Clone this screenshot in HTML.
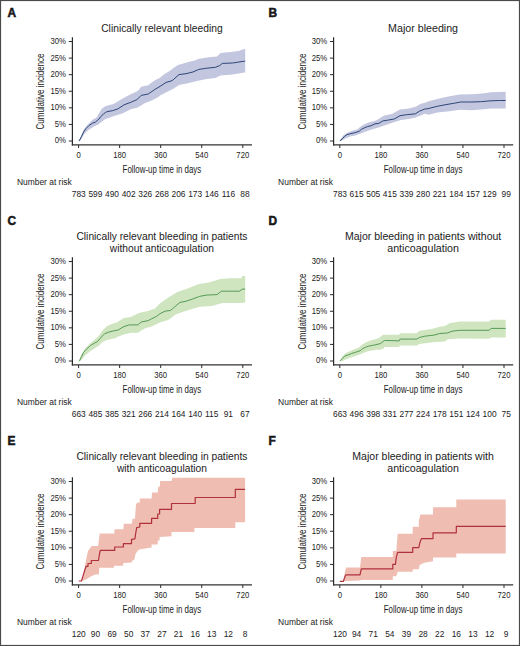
<!DOCTYPE html>
<html><head><meta charset="utf-8"><style>
html,body{margin:0;padding:0;background:#fff;}
svg{display:block;}
text{font-family:"Liberation Sans", sans-serif;fill:#222;}
</style></head><body>
<svg width="520" height="646" viewBox="0 0 520 646">
<rect x="0" y="0" width="520" height="646" fill="#fff"/>
<path d="M78.8,141 L81.5,135 L83.6,129.7 L87.8,124.4 L92.5,119.7 L96.6,117.4 L99.5,112.6 L101.9,108.5 L105.4,106.2 L106.6,105.8 L113.5,104 L120.5,99.7 L129.1,95 L137.8,91.1 L141.2,86.7 L148.2,85.3 L150,83.8 L155.4,80 L159.6,78.1 L164.2,74.2 L170.4,70.4 L173.5,68.1 L178.1,65 L185.8,62.7 L191.2,61.2 L195,60.4 L198.1,59 L208.5,57.3 L217.1,56.4 L220.6,53 L231,52.1 L239.6,50.7 L242.2,49.5 L245.2,49 L245.2,72.4 L241.3,72.9 L232.7,74.6 L220.6,75.5 L215.4,78.1 L206.7,79 L198.1,80.7 L187.7,83.3 L179,85 L173.8,88.5 L166.9,91.9 L160,95.4 L158.5,97.1 L151.6,100.6 L144.7,103.2 L137.8,107.5 L130.8,109.2 L122.2,113.6 L113.5,116.2 L106.6,118.7 L105.4,119.1 L101.3,122.1 L98.4,124.4 L93.6,126.8 L88.9,129.7 L84.8,133.2 L80.7,140.3 L78.8,141Z" fill="#c3c6df"/><path d="M78.8,141 L79.2,140.9 L81.3,136.8 L83.6,132.1 L86,128.5 L88.9,125.6 L92.5,123.2 L95.4,122.1 L98.9,119.1 L100.7,116.8 L103.6,113.8 L105.4,112.6 L106.6,111.8 L112.7,110.6 L117.9,108.9 L123.9,104.9 L130.8,102.3 L136.9,99.7 L141.2,95.4 L148.2,94 L155.1,89.3 L160,86.4 L166.1,82.4 L172.1,80.7 L179,74.6 L186,73.7 L192.9,72 L198.9,69.4 L206.7,68.2 L215.4,67.3 L219.7,65.6 L222.3,63.4 L232.7,63 L237.9,62.2 L244.8,61.1 L245.2,61.1" fill="none" stroke="#2c4677" stroke-width="1.0" stroke-linejoin="round"/><path d="M339.8,141 L341.5,137.8 L343.2,135.4 L347,132.7 L352.4,130.8 L357,129.6 L360.8,126.5 L363.9,124.6 L369.3,122.3 L373.9,121.2 L377,120 L383.7,115.7 L392.3,113.8 L400,109.4 L408.7,108.5 L416.3,106.5 L420.2,104.1 L425,102.7 L428.7,101.2 L437.3,99.1 L449.4,96.3 L459.8,94.6 L471.9,94.2 L482.3,93.4 L491,92.2 L505.7,91.8 L505.7,108.4 L491,108.4 L480.6,109.5 L471.9,110.2 L459.8,109.8 L449.4,111.2 L437.3,112.4 L428.7,114.7 L425,113.8 L420.2,115.7 L415.4,117.6 L408.7,119 L401,120 L396.2,121.4 L389.4,123.8 L380.8,126.7 L377,128.1 L373.9,128.8 L369.3,130.2 L363.9,132.3 L360.1,133.8 L355.5,135.4 L350.1,136.5 L345.5,138.5 L341.6,140.8 L339.8,141Z" fill="#c3c6df"/><path d="M339.8,141 L340.1,140.6 L342.4,138.8 L344.7,136.2 L347,134.6 L350.1,133.8 L353.2,133.1 L356.2,132.3 L359.3,131.2 L361.6,129.2 L364.7,127.7 L367.8,126.5 L370.8,125.8 L375,123.8 L378.8,123.4 L382.7,121 L387.5,120.2 L394.2,119 L400,115.7 L406.7,114.7 L415.4,113.8 L419.2,111.3 L425,108.9 L426.9,108.9 L437.3,106.3 L446,104.6 L454.6,103.2 L460.7,102 L471.9,102 L480.6,101.7 L491,100.8 L499.6,100.5 L505.7,100.5" fill="none" stroke="#2c4677" stroke-width="1.0" stroke-linejoin="round"/><path d="M78.8,361 L81.4,354.6 L85.2,348.5 L89.8,343.8 L95.2,339.2 L99.1,335.4 L102.2,330.8 L106.8,326.2 L112.2,323.8 L116,322.7 L117,322.3 L123.9,318 L130.8,317.1 L139.5,312.8 L148.2,311.1 L155.1,308.5 L160,303.3 L168.7,297.2 L177.3,292 L187.7,288.6 L198.1,284.2 L208.5,282.5 L220.6,279 L229.2,278.2 L241.3,278.2 L242.2,275.9 L245.2,275.9 L245.2,302.4 L241.3,302.9 L222.3,302.9 L218.8,304.1 L211.9,305.9 L199.8,306.7 L191.2,309.3 L182.5,311.9 L175.6,314.5 L168.7,319.7 L160,322.5 L151.6,326.6 L144.7,328.4 L137.8,332.7 L130.8,332.7 L123.9,334.4 L117,337 L116,338.1 L112.2,338.8 L106.8,340 L102.2,342.3 L99.1,345.4 L94.5,348.5 L89.8,351.5 L85.2,355.4 L80.6,360.8 L78.8,361Z" fill="#cfe5c0"/><path d="M78.8,361 L79.5,360.8 L81.4,356.9 L83.7,352.3 L86.8,348.8 L90.6,345.4 L94.5,343.1 L97.5,341.5 L99.8,338.8 L102.2,336.2 L104.5,333.8 L108.3,332.3 L112.2,331.2 L116,330.4 L117.9,330.1 L123.9,326.6 L129.1,324.9 L137.8,324.9 L141.2,322 L148.2,320.6 L151.6,318.8 L156.8,316.2 L160,313.7 L165.2,311.1 L170.4,310.5 L173.8,307.6 L179.9,302.4 L186,301.2 L192.9,298.9 L199.8,296.3 L206.7,295.1 L217.1,294.6 L221.4,291.2 L229.2,291.2 L239.6,291.2 L242.2,289.1 L245.2,289.1" fill="none" stroke="#559a55" stroke-width="1.0" stroke-linejoin="round"/><path d="M339.8,361 L342,357 L344.7,353.8 L349.3,351.5 L353.9,349.6 L358.5,347.7 L362.4,344.6 L366.2,342.3 L370.8,340.4 L377,338.8 L378.5,338.2 L383.1,334.8 L399.2,334.8 L399.9,333.2 L416.7,333.2 L419.4,330.8 L432.9,328.7 L439.6,326.7 L445,326.1 L449.4,323.2 L459.8,321.5 L489.2,321.5 L491,319.8 L505.7,319.8 L505.7,337.6 L491,337.6 L489.2,338.8 L459.8,338.5 L447.7,339.3 L445,341.5 L432.9,342.2 L419.4,344 L416.7,345.6 L399.9,345.6 L399.2,346.9 L384.4,346.9 L383.1,348.9 L378.5,350 L377,349.6 L372.4,350.4 L367.8,351.2 L363.2,353.1 L358.5,355 L352.4,356.9 L346.2,359.2 L341.6,361.5 L339.8,361Z" fill="#cfe5c0"/><path d="M339.8,361 L340.1,360.8 L342.4,358.5 L344.7,356.2 L347.8,355 L351.6,353.5 L355.5,352.3 L360.1,350.8 L362.4,348.8 L365.5,347.3 L368.5,346.2 L372.4,345.4 L375,344.9 L380.4,343.6 L384.4,340.5 L392,340.6 L399.2,340.9 L399.9,339.1 L416.7,339.1 L419.4,337.5 L424.8,336.2 L434.2,335.1 L439.6,333.5 L445,333.2 L447.7,332.9 L452,331.2 L459.8,330.3 L489.2,330.3 L491,328.4 L505.7,328.4" fill="none" stroke="#559a55" stroke-width="1.0" stroke-linejoin="round"/><path d="M78.8,581 L81.5,581 L84,574 L85,565 L86.5,558 L88,551 L91.8,545.9 L98.1,545.9 L99.7,533.6 L114.4,533.6 L114.4,529.3 L123.4,529.3 L123.7,523.7 L131.8,523.7 L132.6,518.7 L135,518.7 L136,504 L137.8,502.5 L139.8,502.5 L139.8,498.4 L151.6,498.4 L152,492.6 L157.7,492.6 L158.2,486.8 L159.8,486.8 L160.2,481 L171.5,481 L172.2,477.8 L245.1,477.8 L245.1,522.3 L235.3,522.3 L235.3,528 L194.4,528 L194.4,532.1 L171.5,532.1 L171.5,536.2 L159.6,537 L159.6,540.6 L157.7,540.6 L157.7,544.4 L151.6,544.4 L151.6,547.4 L145,548.5 L139.2,549.4 L137.3,551.3 L135.4,554.2 L134.4,559.5 L132.5,560.5 L131.5,562.4 L123.4,562.9 L122.9,565.8 L114.2,565.8 L113.8,567.7 L99.3,567.7 L98.8,574.4 L95,574.4 L90,577 L86,579.5 L81.5,581 L78.8,581Z" fill="#efbdb1"/><path d="M78.8,581 L81.5,581 L84.1,572.3 L86.1,566.3 L88,566.3 L88,563.5 L91.3,563.5 L91.3,560.5 L98.4,560.5 L99.8,552.3 L100.3,550.4 L114.7,550.4 L114.7,547 L123.4,547 L123.4,543.7 L131.5,543.7 L131.5,539.3 L134.9,538.8 L135.4,535 L136.7,527.6 L139.8,527 L139.8,523.3 L151.6,523.3 L151.6,518.4 L157.7,518.4 L157.7,514 L159.6,514 L159.6,509.3 L171.5,509.3 L171.5,503.5 L195.2,503.5 L195.2,497.5 L235.3,497.5 L235.3,489.3 L245.1,489.3" fill="none" stroke="#b0303c" stroke-width="1.2" stroke-linejoin="round"/><path d="M339.8,581.3 L343.5,581.3 L344.4,574.4 L346.1,567.5 L360,567.5 L361.3,557.1 L392.8,557.1 L392.8,551.1 L396.3,551.1 L397.7,533.7 L412.7,533.7 L412.7,526.8 L418.8,526.8 L418.8,520.8 L420.5,514.6 L433,514.6 L433,507.3 L456.3,507.3 L456.3,499.4 L505.7,499.4 L505.7,553.6 L456.3,553.6 L456.3,557.5 L433,557.5 L433,561.3 L424,562.8 L419.7,564.9 L418.8,569.2 L412.7,569.2 L412.7,571.8 L397.7,571.8 L396.3,576.2 L392.8,576.2 L392.8,580 L361.3,580 L360,580.5 L345.8,581 L343.5,581.3 L339.8,581.3Z" fill="#efbdb1"/><path d="M339.8,581.3 L343.5,581.3 L344.4,577.9 L345.8,574.9 L360,574.9 L361.3,568.9 L392.8,568.9 L392.8,564.4 L395.4,564.4 L396.3,557.1 L397.7,552.3 L412.7,552.3 L412.7,547.6 L418.8,547.6 L419.7,543.3 L421.4,538.6 L433,538.6 L433,532.8 L456.3,532.8 L456.3,526.4 L505.7,526.4" fill="none" stroke="#b0303c" stroke-width="1.2" stroke-linejoin="round"/><g transform="translate(0,0)"><text x="7.4" y="16.9" font-weight="bold" font-size="11.9" fill="#000" stroke="#000" stroke-width="0.45">A</text><text x="161.9" y="31.8" font-size="10.25" text-anchor="middle">Clinically relevant bleeding</text><path d="M72.4,37.3 V145.5" fill="none" stroke="#2a2a2a" stroke-width="1.2"/><path d="M71.8,144.9 H252" fill="none" stroke="#333" stroke-width="1.4"/><path d="M68.8,141 H72 M68.8,124.42 H72 M68.8,107.84 H72 M68.8,91.26 H72 M68.8,74.68 H72 M68.8,58.1 H72 M68.8,41.52 H72 M78.6,145 V148 M119.65,145 V148 M160.7,145 V148 M201.75,145 V148 M242.8,145 V148" stroke="#2a2a2a" stroke-width="1"/><text x="66" y="143.4" font-size="9.0" text-anchor="end" textLength="11.19" lengthAdjust="spacingAndGlyphs" fill="#333">0%</text><text x="66" y="126.82" font-size="9.0" text-anchor="end" textLength="11.19" lengthAdjust="spacingAndGlyphs" fill="#333">5%</text><text x="66" y="110.24" font-size="9.0" text-anchor="end" textLength="15.49" lengthAdjust="spacingAndGlyphs" fill="#333">10%</text><text x="66" y="93.66" font-size="9.0" text-anchor="end" textLength="15.49" lengthAdjust="spacingAndGlyphs" fill="#333">15%</text><text x="66" y="77.08" font-size="9.0" text-anchor="end" textLength="15.49" lengthAdjust="spacingAndGlyphs" fill="#333">20%</text><text x="66" y="60.5" font-size="9.0" text-anchor="end" textLength="15.49" lengthAdjust="spacingAndGlyphs" fill="#333">25%</text><text x="66" y="43.92" font-size="9.0" text-anchor="end" textLength="15.49" lengthAdjust="spacingAndGlyphs" fill="#333">30%</text><text x="78.6" y="158.4" font-size="9.2" text-anchor="middle" textLength="4.3" lengthAdjust="spacingAndGlyphs" fill="#333">0</text><text x="119.65" y="158.4" font-size="9.2" text-anchor="middle" textLength="12.89" lengthAdjust="spacingAndGlyphs" fill="#333">180</text><text x="160.7" y="158.4" font-size="9.2" text-anchor="middle" textLength="12.89" lengthAdjust="spacingAndGlyphs" fill="#333">360</text><text x="201.75" y="158.4" font-size="9.2" text-anchor="middle" textLength="12.89" lengthAdjust="spacingAndGlyphs" fill="#333">540</text><text x="242.8" y="158.4" font-size="9.2" text-anchor="middle" textLength="12.89" lengthAdjust="spacingAndGlyphs" fill="#333">720</text><text transform="translate(44.3,91.5) rotate(-90)" x="0" y="0" font-size="10.5" text-anchor="middle" textLength="76" lengthAdjust="spacingAndGlyphs" fill="#333">Cumulative incidence</text><text x="161.9" y="172.5" font-size="10.2" text-anchor="middle" textLength="78.7" lengthAdjust="spacingAndGlyphs" fill="#333">Follow-up time in days</text><text x="16.9" y="184.8" font-size="8.45" fill="#222">Number at risk</text><text x="78.8" y="196.9" font-size="8.4" text-anchor="middle" fill="#222">783</text><text x="95.42" y="196.9" font-size="8.4" text-anchor="middle" fill="#222">599</text><text x="112.04" y="196.9" font-size="8.4" text-anchor="middle" fill="#222">490</text><text x="128.66" y="196.9" font-size="8.4" text-anchor="middle" fill="#222">402</text><text x="145.28" y="196.9" font-size="8.4" text-anchor="middle" fill="#222">326</text><text x="161.9" y="196.9" font-size="8.4" text-anchor="middle" fill="#222">268</text><text x="178.52" y="196.9" font-size="8.4" text-anchor="middle" fill="#222">206</text><text x="195.14" y="196.9" font-size="8.4" text-anchor="middle" fill="#222">173</text><text x="211.76" y="196.9" font-size="8.4" text-anchor="middle" fill="#222">146</text><text x="228.38" y="196.9" font-size="8.4" text-anchor="middle" fill="#222">116</text><text x="245" y="196.9" font-size="8.4" text-anchor="middle" fill="#222">88</text></g><g transform="translate(261.2,0)"><text x="7.4" y="16.9" font-weight="bold" font-size="11.9" fill="#000" stroke="#000" stroke-width="0.45">B</text><text x="161.9" y="31.8" font-size="10.25" text-anchor="middle" textLength="69.93" lengthAdjust="spacingAndGlyphs">Major bleeding</text><path d="M72.4,37.3 V145.5" fill="none" stroke="#2a2a2a" stroke-width="1.2"/><path d="M71.8,144.9 H252" fill="none" stroke="#333" stroke-width="1.4"/><path d="M68.8,141 H72 M68.8,124.42 H72 M68.8,107.84 H72 M68.8,91.26 H72 M68.8,74.68 H72 M68.8,58.1 H72 M68.8,41.52 H72 M78.6,145 V148 M119.65,145 V148 M160.7,145 V148 M201.75,145 V148 M242.8,145 V148" stroke="#2a2a2a" stroke-width="1"/><text x="66" y="143.4" font-size="9.0" text-anchor="end" textLength="11.19" lengthAdjust="spacingAndGlyphs" fill="#333">0%</text><text x="66" y="126.82" font-size="9.0" text-anchor="end" textLength="11.19" lengthAdjust="spacingAndGlyphs" fill="#333">5%</text><text x="66" y="110.24" font-size="9.0" text-anchor="end" textLength="15.49" lengthAdjust="spacingAndGlyphs" fill="#333">10%</text><text x="66" y="93.66" font-size="9.0" text-anchor="end" textLength="15.49" lengthAdjust="spacingAndGlyphs" fill="#333">15%</text><text x="66" y="77.08" font-size="9.0" text-anchor="end" textLength="15.49" lengthAdjust="spacingAndGlyphs" fill="#333">20%</text><text x="66" y="60.5" font-size="9.0" text-anchor="end" textLength="15.49" lengthAdjust="spacingAndGlyphs" fill="#333">25%</text><text x="66" y="43.92" font-size="9.0" text-anchor="end" textLength="15.49" lengthAdjust="spacingAndGlyphs" fill="#333">30%</text><text x="78.6" y="158.4" font-size="9.2" text-anchor="middle" textLength="4.3" lengthAdjust="spacingAndGlyphs" fill="#333">0</text><text x="119.65" y="158.4" font-size="9.2" text-anchor="middle" textLength="12.89" lengthAdjust="spacingAndGlyphs" fill="#333">180</text><text x="160.7" y="158.4" font-size="9.2" text-anchor="middle" textLength="12.89" lengthAdjust="spacingAndGlyphs" fill="#333">360</text><text x="201.75" y="158.4" font-size="9.2" text-anchor="middle" textLength="12.89" lengthAdjust="spacingAndGlyphs" fill="#333">540</text><text x="242.8" y="158.4" font-size="9.2" text-anchor="middle" textLength="12.89" lengthAdjust="spacingAndGlyphs" fill="#333">720</text><text transform="translate(44.3,91.5) rotate(-90)" x="0" y="0" font-size="10.5" text-anchor="middle" textLength="76" lengthAdjust="spacingAndGlyphs" fill="#333">Cumulative incidence</text><text x="161.9" y="172.5" font-size="10.2" text-anchor="middle" textLength="78.7" lengthAdjust="spacingAndGlyphs" fill="#333">Follow-up time in days</text><text x="16.9" y="184.8" font-size="8.45" fill="#222">Number at risk</text><text x="78.8" y="196.9" font-size="8.4" text-anchor="middle" fill="#222">783</text><text x="95.42" y="196.9" font-size="8.4" text-anchor="middle" fill="#222">615</text><text x="112.04" y="196.9" font-size="8.4" text-anchor="middle" fill="#222">505</text><text x="128.66" y="196.9" font-size="8.4" text-anchor="middle" fill="#222">415</text><text x="145.28" y="196.9" font-size="8.4" text-anchor="middle" fill="#222">339</text><text x="161.9" y="196.9" font-size="8.4" text-anchor="middle" fill="#222">280</text><text x="178.52" y="196.9" font-size="8.4" text-anchor="middle" fill="#222">221</text><text x="195.14" y="196.9" font-size="8.4" text-anchor="middle" fill="#222">184</text><text x="211.76" y="196.9" font-size="8.4" text-anchor="middle" fill="#222">157</text><text x="228.38" y="196.9" font-size="8.4" text-anchor="middle" fill="#222">129</text><text x="245" y="196.9" font-size="8.4" text-anchor="middle" fill="#222">99</text></g><g transform="translate(0,220)"><text x="7.4" y="4.8" font-weight="bold" font-size="11.9" fill="#000" stroke="#000" stroke-width="0.45">C</text><text x="161.9" y="19.5" font-size="10.25" text-anchor="middle">Clinically relevant bleeding in patients</text><text x="161.9" y="31.9" font-size="10.25" text-anchor="middle">without anticoagulation</text><path d="M72.4,37.3 V145.5" fill="none" stroke="#2a2a2a" stroke-width="1.2"/><path d="M71.8,144.9 H252" fill="none" stroke="#333" stroke-width="1.4"/><path d="M68.8,141 H72 M68.8,124.42 H72 M68.8,107.84 H72 M68.8,91.26 H72 M68.8,74.68 H72 M68.8,58.1 H72 M68.8,41.52 H72 M78.6,145 V148 M119.65,145 V148 M160.7,145 V148 M201.75,145 V148 M242.8,145 V148" stroke="#2a2a2a" stroke-width="1"/><text x="66" y="143.4" font-size="9.0" text-anchor="end" textLength="11.19" lengthAdjust="spacingAndGlyphs" fill="#333">0%</text><text x="66" y="126.82" font-size="9.0" text-anchor="end" textLength="11.19" lengthAdjust="spacingAndGlyphs" fill="#333">5%</text><text x="66" y="110.24" font-size="9.0" text-anchor="end" textLength="15.49" lengthAdjust="spacingAndGlyphs" fill="#333">10%</text><text x="66" y="93.66" font-size="9.0" text-anchor="end" textLength="15.49" lengthAdjust="spacingAndGlyphs" fill="#333">15%</text><text x="66" y="77.08" font-size="9.0" text-anchor="end" textLength="15.49" lengthAdjust="spacingAndGlyphs" fill="#333">20%</text><text x="66" y="60.5" font-size="9.0" text-anchor="end" textLength="15.49" lengthAdjust="spacingAndGlyphs" fill="#333">25%</text><text x="66" y="43.92" font-size="9.0" text-anchor="end" textLength="15.49" lengthAdjust="spacingAndGlyphs" fill="#333">30%</text><text x="78.6" y="158.4" font-size="9.2" text-anchor="middle" textLength="4.3" lengthAdjust="spacingAndGlyphs" fill="#333">0</text><text x="119.65" y="158.4" font-size="9.2" text-anchor="middle" textLength="12.89" lengthAdjust="spacingAndGlyphs" fill="#333">180</text><text x="160.7" y="158.4" font-size="9.2" text-anchor="middle" textLength="12.89" lengthAdjust="spacingAndGlyphs" fill="#333">360</text><text x="201.75" y="158.4" font-size="9.2" text-anchor="middle" textLength="12.89" lengthAdjust="spacingAndGlyphs" fill="#333">540</text><text x="242.8" y="158.4" font-size="9.2" text-anchor="middle" textLength="12.89" lengthAdjust="spacingAndGlyphs" fill="#333">720</text><text transform="translate(44.3,91.5) rotate(-90)" x="0" y="0" font-size="10.5" text-anchor="middle" textLength="76" lengthAdjust="spacingAndGlyphs" fill="#333">Cumulative incidence</text><text x="161.9" y="172.5" font-size="10.2" text-anchor="middle" textLength="78.7" lengthAdjust="spacingAndGlyphs" fill="#333">Follow-up time in days</text><text x="16.9" y="184.8" font-size="8.45" fill="#222">Number at risk</text><text x="78.8" y="196.9" font-size="8.4" text-anchor="middle" fill="#222">663</text><text x="95.42" y="196.9" font-size="8.4" text-anchor="middle" fill="#222">485</text><text x="112.04" y="196.9" font-size="8.4" text-anchor="middle" fill="#222">385</text><text x="128.66" y="196.9" font-size="8.4" text-anchor="middle" fill="#222">321</text><text x="145.28" y="196.9" font-size="8.4" text-anchor="middle" fill="#222">266</text><text x="161.9" y="196.9" font-size="8.4" text-anchor="middle" fill="#222">214</text><text x="178.52" y="196.9" font-size="8.4" text-anchor="middle" fill="#222">164</text><text x="195.14" y="196.9" font-size="8.4" text-anchor="middle" fill="#222">140</text><text x="211.76" y="196.9" font-size="8.4" text-anchor="middle" fill="#222">115</text><text x="228.38" y="196.9" font-size="8.4" text-anchor="middle" fill="#222">91</text><text x="245" y="196.9" font-size="8.4" text-anchor="middle" fill="#222">67</text></g><g transform="translate(261.2,220)"><text x="7.4" y="4.8" font-weight="bold" font-size="11.9" fill="#000" stroke="#000" stroke-width="0.45">D</text><text x="161.9" y="19.5" font-size="10.25" text-anchor="middle" textLength="156.39" lengthAdjust="spacingAndGlyphs">Major bleeding in patients without</text><text x="161.9" y="31.9" font-size="10.25" text-anchor="middle" textLength="71.72" lengthAdjust="spacingAndGlyphs">anticoagulation</text><path d="M72.4,37.3 V145.5" fill="none" stroke="#2a2a2a" stroke-width="1.2"/><path d="M71.8,144.9 H252" fill="none" stroke="#333" stroke-width="1.4"/><path d="M68.8,141 H72 M68.8,124.42 H72 M68.8,107.84 H72 M68.8,91.26 H72 M68.8,74.68 H72 M68.8,58.1 H72 M68.8,41.52 H72 M78.6,145 V148 M119.65,145 V148 M160.7,145 V148 M201.75,145 V148 M242.8,145 V148" stroke="#2a2a2a" stroke-width="1"/><text x="66" y="143.4" font-size="9.0" text-anchor="end" textLength="11.19" lengthAdjust="spacingAndGlyphs" fill="#333">0%</text><text x="66" y="126.82" font-size="9.0" text-anchor="end" textLength="11.19" lengthAdjust="spacingAndGlyphs" fill="#333">5%</text><text x="66" y="110.24" font-size="9.0" text-anchor="end" textLength="15.49" lengthAdjust="spacingAndGlyphs" fill="#333">10%</text><text x="66" y="93.66" font-size="9.0" text-anchor="end" textLength="15.49" lengthAdjust="spacingAndGlyphs" fill="#333">15%</text><text x="66" y="77.08" font-size="9.0" text-anchor="end" textLength="15.49" lengthAdjust="spacingAndGlyphs" fill="#333">20%</text><text x="66" y="60.5" font-size="9.0" text-anchor="end" textLength="15.49" lengthAdjust="spacingAndGlyphs" fill="#333">25%</text><text x="66" y="43.92" font-size="9.0" text-anchor="end" textLength="15.49" lengthAdjust="spacingAndGlyphs" fill="#333">30%</text><text x="78.6" y="158.4" font-size="9.2" text-anchor="middle" textLength="4.3" lengthAdjust="spacingAndGlyphs" fill="#333">0</text><text x="119.65" y="158.4" font-size="9.2" text-anchor="middle" textLength="12.89" lengthAdjust="spacingAndGlyphs" fill="#333">180</text><text x="160.7" y="158.4" font-size="9.2" text-anchor="middle" textLength="12.89" lengthAdjust="spacingAndGlyphs" fill="#333">360</text><text x="201.75" y="158.4" font-size="9.2" text-anchor="middle" textLength="12.89" lengthAdjust="spacingAndGlyphs" fill="#333">540</text><text x="242.8" y="158.4" font-size="9.2" text-anchor="middle" textLength="12.89" lengthAdjust="spacingAndGlyphs" fill="#333">720</text><text transform="translate(44.3,91.5) rotate(-90)" x="0" y="0" font-size="10.5" text-anchor="middle" textLength="76" lengthAdjust="spacingAndGlyphs" fill="#333">Cumulative incidence</text><text x="161.9" y="172.5" font-size="10.2" text-anchor="middle" textLength="78.7" lengthAdjust="spacingAndGlyphs" fill="#333">Follow-up time in days</text><text x="16.9" y="184.8" font-size="8.45" fill="#222">Number at risk</text><text x="78.8" y="196.9" font-size="8.4" text-anchor="middle" fill="#222">663</text><text x="95.42" y="196.9" font-size="8.4" text-anchor="middle" fill="#222">496</text><text x="112.04" y="196.9" font-size="8.4" text-anchor="middle" fill="#222">398</text><text x="128.66" y="196.9" font-size="8.4" text-anchor="middle" fill="#222">331</text><text x="145.28" y="196.9" font-size="8.4" text-anchor="middle" fill="#222">277</text><text x="161.9" y="196.9" font-size="8.4" text-anchor="middle" fill="#222">224</text><text x="178.52" y="196.9" font-size="8.4" text-anchor="middle" fill="#222">178</text><text x="195.14" y="196.9" font-size="8.4" text-anchor="middle" fill="#222">151</text><text x="211.76" y="196.9" font-size="8.4" text-anchor="middle" fill="#222">124</text><text x="228.38" y="196.9" font-size="8.4" text-anchor="middle" fill="#222">100</text><text x="245" y="196.9" font-size="8.4" text-anchor="middle" fill="#222">75</text></g><g transform="translate(0,440)"><text x="7.4" y="4.8" font-weight="bold" font-size="11.9" fill="#000" stroke="#000" stroke-width="0.45">E</text><text x="161.9" y="19.5" font-size="10.25" text-anchor="middle">Clinically relevant bleeding in patients</text><text x="161.9" y="31.9" font-size="10.25" text-anchor="middle">with anticoagulation</text><path d="M72.4,37.3 V145.5" fill="none" stroke="#2a2a2a" stroke-width="1.2"/><path d="M71.8,144.9 H252" fill="none" stroke="#333" stroke-width="1.4"/><path d="M68.8,141 H72 M68.8,124.42 H72 M68.8,107.84 H72 M68.8,91.26 H72 M68.8,74.68 H72 M68.8,58.1 H72 M68.8,41.52 H72 M78.6,145 V148 M119.65,145 V148 M160.7,145 V148 M201.75,145 V148 M242.8,145 V148" stroke="#2a2a2a" stroke-width="1"/><text x="66" y="143.4" font-size="9.0" text-anchor="end" textLength="11.19" lengthAdjust="spacingAndGlyphs" fill="#333">0%</text><text x="66" y="126.82" font-size="9.0" text-anchor="end" textLength="11.19" lengthAdjust="spacingAndGlyphs" fill="#333">5%</text><text x="66" y="110.24" font-size="9.0" text-anchor="end" textLength="15.49" lengthAdjust="spacingAndGlyphs" fill="#333">10%</text><text x="66" y="93.66" font-size="9.0" text-anchor="end" textLength="15.49" lengthAdjust="spacingAndGlyphs" fill="#333">15%</text><text x="66" y="77.08" font-size="9.0" text-anchor="end" textLength="15.49" lengthAdjust="spacingAndGlyphs" fill="#333">20%</text><text x="66" y="60.5" font-size="9.0" text-anchor="end" textLength="15.49" lengthAdjust="spacingAndGlyphs" fill="#333">25%</text><text x="66" y="43.92" font-size="9.0" text-anchor="end" textLength="15.49" lengthAdjust="spacingAndGlyphs" fill="#333">30%</text><text x="78.6" y="158.4" font-size="9.2" text-anchor="middle" textLength="4.3" lengthAdjust="spacingAndGlyphs" fill="#333">0</text><text x="119.65" y="158.4" font-size="9.2" text-anchor="middle" textLength="12.89" lengthAdjust="spacingAndGlyphs" fill="#333">180</text><text x="160.7" y="158.4" font-size="9.2" text-anchor="middle" textLength="12.89" lengthAdjust="spacingAndGlyphs" fill="#333">360</text><text x="201.75" y="158.4" font-size="9.2" text-anchor="middle" textLength="12.89" lengthAdjust="spacingAndGlyphs" fill="#333">540</text><text x="242.8" y="158.4" font-size="9.2" text-anchor="middle" textLength="12.89" lengthAdjust="spacingAndGlyphs" fill="#333">720</text><text transform="translate(44.3,91.5) rotate(-90)" x="0" y="0" font-size="10.5" text-anchor="middle" textLength="76" lengthAdjust="spacingAndGlyphs" fill="#333">Cumulative incidence</text><text x="161.9" y="172.5" font-size="10.2" text-anchor="middle" textLength="78.7" lengthAdjust="spacingAndGlyphs" fill="#333">Follow-up time in days</text><text x="16.9" y="184.8" font-size="8.45" fill="#222">Number at risk</text><text x="78.8" y="196.9" font-size="8.4" text-anchor="middle" fill="#222">120</text><text x="95.42" y="196.9" font-size="8.4" text-anchor="middle" fill="#222">90</text><text x="112.04" y="196.9" font-size="8.4" text-anchor="middle" fill="#222">69</text><text x="128.66" y="196.9" font-size="8.4" text-anchor="middle" fill="#222">50</text><text x="145.28" y="196.9" font-size="8.4" text-anchor="middle" fill="#222">37</text><text x="161.9" y="196.9" font-size="8.4" text-anchor="middle" fill="#222">27</text><text x="178.52" y="196.9" font-size="8.4" text-anchor="middle" fill="#222">21</text><text x="195.14" y="196.9" font-size="8.4" text-anchor="middle" fill="#222">16</text><text x="211.76" y="196.9" font-size="8.4" text-anchor="middle" fill="#222">13</text><text x="228.38" y="196.9" font-size="8.4" text-anchor="middle" fill="#222">12</text><text x="245" y="196.9" font-size="8.4" text-anchor="middle" fill="#222">8</text></g><g transform="translate(261.2,440)"><text x="7.4" y="4.8" font-weight="bold" font-size="11.9" fill="#000" stroke="#000" stroke-width="0.45">F</text><text x="161.9" y="19.5" font-size="10.25" text-anchor="middle" textLength="141.47" lengthAdjust="spacingAndGlyphs">Major bleeding in patients with</text><text x="161.9" y="31.9" font-size="10.25" text-anchor="middle" textLength="71.72" lengthAdjust="spacingAndGlyphs">anticoagulation</text><path d="M72.4,37.3 V145.5" fill="none" stroke="#2a2a2a" stroke-width="1.2"/><path d="M71.8,144.9 H252" fill="none" stroke="#333" stroke-width="1.4"/><path d="M68.8,141 H72 M68.8,124.42 H72 M68.8,107.84 H72 M68.8,91.26 H72 M68.8,74.68 H72 M68.8,58.1 H72 M68.8,41.52 H72 M78.6,145 V148 M119.65,145 V148 M160.7,145 V148 M201.75,145 V148 M242.8,145 V148" stroke="#2a2a2a" stroke-width="1"/><text x="66" y="143.4" font-size="9.0" text-anchor="end" textLength="11.19" lengthAdjust="spacingAndGlyphs" fill="#333">0%</text><text x="66" y="126.82" font-size="9.0" text-anchor="end" textLength="11.19" lengthAdjust="spacingAndGlyphs" fill="#333">5%</text><text x="66" y="110.24" font-size="9.0" text-anchor="end" textLength="15.49" lengthAdjust="spacingAndGlyphs" fill="#333">10%</text><text x="66" y="93.66" font-size="9.0" text-anchor="end" textLength="15.49" lengthAdjust="spacingAndGlyphs" fill="#333">15%</text><text x="66" y="77.08" font-size="9.0" text-anchor="end" textLength="15.49" lengthAdjust="spacingAndGlyphs" fill="#333">20%</text><text x="66" y="60.5" font-size="9.0" text-anchor="end" textLength="15.49" lengthAdjust="spacingAndGlyphs" fill="#333">25%</text><text x="66" y="43.92" font-size="9.0" text-anchor="end" textLength="15.49" lengthAdjust="spacingAndGlyphs" fill="#333">30%</text><text x="78.6" y="158.4" font-size="9.2" text-anchor="middle" textLength="4.3" lengthAdjust="spacingAndGlyphs" fill="#333">0</text><text x="119.65" y="158.4" font-size="9.2" text-anchor="middle" textLength="12.89" lengthAdjust="spacingAndGlyphs" fill="#333">180</text><text x="160.7" y="158.4" font-size="9.2" text-anchor="middle" textLength="12.89" lengthAdjust="spacingAndGlyphs" fill="#333">360</text><text x="201.75" y="158.4" font-size="9.2" text-anchor="middle" textLength="12.89" lengthAdjust="spacingAndGlyphs" fill="#333">540</text><text x="242.8" y="158.4" font-size="9.2" text-anchor="middle" textLength="12.89" lengthAdjust="spacingAndGlyphs" fill="#333">720</text><text transform="translate(44.3,91.5) rotate(-90)" x="0" y="0" font-size="10.5" text-anchor="middle" textLength="76" lengthAdjust="spacingAndGlyphs" fill="#333">Cumulative incidence</text><text x="161.9" y="172.5" font-size="10.2" text-anchor="middle" textLength="78.7" lengthAdjust="spacingAndGlyphs" fill="#333">Follow-up time in days</text><text x="16.9" y="184.8" font-size="8.45" fill="#222">Number at risk</text><text x="78.8" y="196.9" font-size="8.4" text-anchor="middle" fill="#222">120</text><text x="95.42" y="196.9" font-size="8.4" text-anchor="middle" fill="#222">94</text><text x="112.04" y="196.9" font-size="8.4" text-anchor="middle" fill="#222">71</text><text x="128.66" y="196.9" font-size="8.4" text-anchor="middle" fill="#222">54</text><text x="145.28" y="196.9" font-size="8.4" text-anchor="middle" fill="#222">39</text><text x="161.9" y="196.9" font-size="8.4" text-anchor="middle" fill="#222">28</text><text x="178.52" y="196.9" font-size="8.4" text-anchor="middle" fill="#222">22</text><text x="195.14" y="196.9" font-size="8.4" text-anchor="middle" fill="#222">16</text><text x="211.76" y="196.9" font-size="8.4" text-anchor="middle" fill="#222">13</text><text x="228.38" y="196.9" font-size="8.4" text-anchor="middle" fill="#222">12</text><text x="245" y="196.9" font-size="8.4" text-anchor="middle" fill="#222">9</text></g>
<rect x="0.5" y="0.5" width="519" height="645" fill="none" stroke="#4a4a4a" stroke-width="1.2"/>
</svg>
</body></html>
